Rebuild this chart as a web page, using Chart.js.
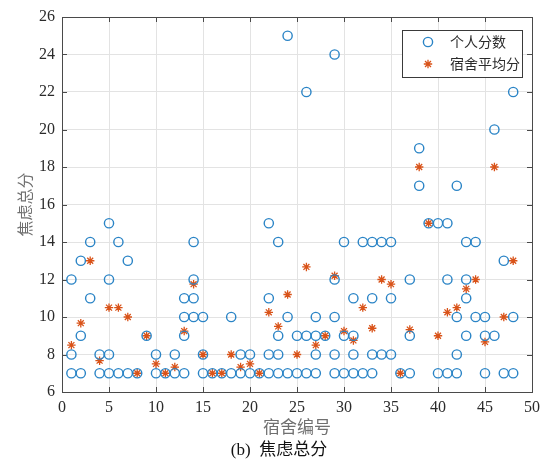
<!DOCTYPE html>
<html>
<head>
<meta charset="utf-8">
<script src="https://cdn.jsdelivr.net/npm/chart.js@4.4.0/dist/chart.umd.min.js"></script>
<style>
html, body { margin: 0; padding: 0; background: #fff; }
</style>
</head>
<body>
<canvas id="grafico-焦虑" width="546" height="467"></canvas>
<script>
// 每个宿舍的个人焦虑总分，按宿舍编号 1..48 排列（重复分数只画一次）
const individualScores = [
    [12, 8, 7], [13, 9, 7], [14, 11], [8, 7], [15, 12, 8, 7], [14, 7],
    [13, 7], [7], [9], [8, 7], [7], [8, 7],
    [11, 10, 9, 7], [14, 12, 11, 10], [10, 8, 7], [7], [7], [10, 7],
    [8, 7], [8, 7], [7], [15, 11, 8, 7], [14, 9, 8, 7], [25, 10, 7],
    [9, 7], [22, 9, 7], [10, 9, 8, 7], [9], [24, 12, 10, 8, 7], [14, 9, 7],
    [11, 9, 8, 7], [14, 7], [14, 11, 8, 7], [14, 8], [14, 11, 8], [7],
    [12, 9, 7], [19, 17], [15], [15, 7], [15, 12, 7], [17, 10, 8, 7],
    [14, 12, 11, 9], [14, 10], [10, 9, 7], [20, 9], [13, 7], [22, 10, 7]
];
const dormAverages = [
    8.5, 9.67, 13, 7.67, 10.5, 10.5, 10, 7, 9, 7.5, 7, 7.33,
    9.25, 11.75, 8, 7, 7, 8, 7.33, 7.5, 7, 10.25, 9.5, 11.2,
    8, 12.67, 8.5, 9, 12.2, 9.25, 8.75, 10.5, 9.4, 12, 11.75, 7,
    9.33, 18, 15, 9, 10.25, 10.5, 11.5, 12, 8.67, 18, 10, 13
];
const xTicks = [0, 5, 10, 15, 20, 25, 30, 35, 40, 45, 50];
const yTicks = [6, 8, 10, 12, 14, 16, 18, 20, 22, 24, 26];
const seriesLabels = ['个人分数', '宿舍平均分'];
const xTitle = '宿舍编号';
const yTitle = '焦虑总分';
const caption = '(b)  焦虑总分';

const cores = {
    circulo: '#2a84c6',
    estrela: '#D95319',
    eixo: '#4a4a4a',
    grade: '#e3e3e3',
    texto: '#2b2b2b',
    titulo: '#707070'
};

const pontosIndividuais = [];
individualScores.forEach((lista, i) => {
    lista.forEach(v => pontosIndividuais.push({ x: i + 1, y: v }));
});
const pontosMedia = dormAverages.map((v, i) => ({ x: i + 1, y: v }));

function desenharMarcador(ctx, estilo, x, y, r) {
    ctx.beginPath();
    if (estilo === 'circle') {
        ctx.arc(x, y, r, 0, Math.PI * 2);
    } else {
        const d = r * Math.SQRT1_2;
        ctx.moveTo(x - r, y); ctx.lineTo(x + r, y);
        ctx.moveTo(x, y - r); ctx.lineTo(x, y + r);
        ctx.moveTo(x - d, y - d); ctx.lineTo(x + d, y + d);
        ctx.moveTo(x - d, y + d); ctx.lineTo(x + d, y - d);
    }
    ctx.stroke();
}

// moldura do eixo com marcas para dentro (estilo MATLAB)
const molduraPlugin = {
    id: 'moldura',
    beforeDatasetsDraw(chart) {
        const { ctx, chartArea: a, scales } = chart;
        ctx.save();
        ctx.strokeStyle = cores.eixo;
        ctx.lineWidth = 1;
        ctx.beginPath();
        const tl = 5;
        xTicks.forEach(v => {
            const px = Math.round(scales.x.getPixelForValue(v)) + 0.5;
            ctx.moveTo(px, a.bottom); ctx.lineTo(px, a.bottom - tl);
            ctx.moveTo(px, a.top); ctx.lineTo(px, a.top + tl);
        });
        yTicks.forEach(v => {
            const py = Math.round(scales.y.getPixelForValue(v)) + 0.5;
            ctx.moveTo(a.left, py); ctx.lineTo(a.left + tl, py);
            ctx.moveTo(a.right, py); ctx.lineTo(a.right - tl, py);
        });
        ctx.stroke();
        ctx.strokeRect(Math.round(a.left) + 0.5, Math.round(a.top) + 0.5,
            Math.round(a.right - a.left), Math.round(a.bottom - a.top));
        ctx.restore();
    }
};

const legendaPlugin = {
    id: 'legendaCaixa',
    afterDatasetsDraw(chart) {
        const { ctx } = chart;
        ctx.save();
        ctx.fillStyle = '#fff';
        ctx.fillRect(402.5, 30.5, 120, 47);
        ctx.strokeStyle = '#3a3a3a';
        ctx.lineWidth = 1;
        ctx.strokeRect(402.5, 30.5, 120, 47);
        chart.data.datasets.forEach((ds, i) => {
            const y = 42 + i * 22;
            ctx.strokeStyle = ds.borderColor;
            ctx.lineWidth = ds.borderWidth;
            desenharMarcador(ctx, ds.pointStyle, 428, y, ds.pointRadius);
            ctx.fillStyle = cores.texto;
            ctx.font = '14px "Noto Sans CJK SC"';
            ctx.textBaseline = 'middle';
            ctx.textAlign = 'left';
            ctx.fillText(ds.label, 450, y);
        });
        ctx.restore();
    }
};

const legendaInferior = {
    id: 'legendaInferior',
    afterDraw(chart) {
        const { ctx } = chart;
        ctx.save();
        ctx.fillStyle = '#111';
        ctx.font = '17px "Liberation Serif", "Noto Sans CJK SC"';
        ctx.textAlign = 'center';
        ctx.textBaseline = 'middle';
        ctx.fillText(caption, 279, 451);
        ctx.restore();
    }
};

new Chart(document.getElementById('grafico-焦虑'), {
    type: 'scatter',
    data: {
        datasets: [
            {
                label: seriesLabels[0],
                data: pontosIndividuais,
                pointStyle: 'circle',
                pointRadius: 4.6,
                pointHoverRadius: 4.6,
                borderWidth: 1.4,
                borderColor: cores.circulo,
                backgroundColor: 'rgba(0,0,0,0)'
            },
            {
                label: seriesLabels[1],
                data: pontosMedia,
                pointStyle: 'star',
                pointRadius: 4.2,
                pointHoverRadius: 4.2,
                borderWidth: 1.3,
                borderColor: cores.estrela,
                backgroundColor: cores.estrela
            }
        ]
    },
    options: {
        responsive: false,
        animation: false,
        layout: { padding: { left: 12, right: 13, top: 17, bottom: 27 } },
        plugins: {
            legend: { display: false },
            tooltip: { enabled: false }
        },
        scales: {
            x: {
                type: 'linear',
                min: 0,
                max: 50,
                afterFit: (s) => { s.height = 48; },
                afterBuildTicks: (s) => { s.ticks = xTicks.map(v => ({ value: v })); },
                grid: { color: cores.grade, drawTicks: false },
                border: { display: false },
                ticks: {
                    padding: 6,
                    maxRotation: 0,
                    color: cores.texto,
                    font: { family: '"Liberation Serif"', size: 16 }
                },
                title: {
                    display: true,
                    text: xTitle,
                    color: cores.titulo,
                    padding: { top: 0, bottom: 3 },
                    font: { family: '"Noto Sans CJK SC"', size: 17 }
                }
            },
            y: {
                type: 'linear',
                min: 6,
                max: 26,
                afterFit: (s) => { s.width = 50; },
                afterBuildTicks: (s) => { s.ticks = yTicks.map(v => ({ value: v })); },
                grid: { color: cores.grade, drawTicks: false },
                border: { display: false },
                ticks: {
                    padding: 7,
                    color: cores.texto,
                    font: { family: '"Liberation Serif"', size: 16 }
                },
                title: {
                    display: true,
                    text: yTitle,
                    color: cores.titulo,
                    padding: { top: 3, bottom: 0 },
                    font: { family: '"Noto Sans CJK SC"', size: 16 }
                }
            }
        }
    },
    plugins: [molduraPlugin, legendaPlugin, legendaInferior]
});
</script>
</body>
</html>
